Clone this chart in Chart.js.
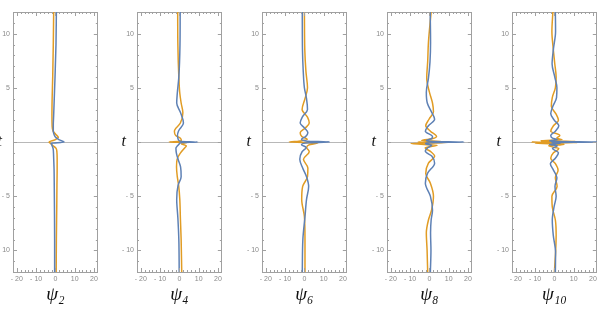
<!DOCTYPE html>
<html>
<head>
<meta charset="utf-8">
<script src="https://cdn.jsdelivr.net/npm/chart.js@4.4.1/dist/chart.umd.min.js"></script>
<style>
  html, body { margin: 0; padding: 0; background: #fff; width: 600px; height: 313px; overflow: hidden; }
  #wrap { position: relative; width: 600px; height: 313px; }
  #wrap canvas { position: absolute; top: 0; }
</style>
</head>
<body>
<div id="wrap"></div>
<script>
// five panels: Re (blue) and Im (orange) of psi_n against t

const panelLabels = ["ψ₂", "ψ₄", "ψ₆", "ψ₈", "ψ₁₀"];

// psi_2
const t2      = [-12, -9, -6, -4, -2.5, -1.5, -1, -0.6, -0.3, -0.12, 0, 0.2, 0.43, 0.7, 1, 1.5, 2.5, 4, 6, 9, 12];
const blue2   = [-0.4, -0.4, -0.5, -0.6, -0.7, -0.9, -1, -1.2, -1.8, -2.2, 4.5, 2, 0.1, -0.7, -1.1, -1.1, -0.9, -0.6, -0.2, 0.3, 0.5];
const orange2 = [0.4, 0.5, 0.7, 0.8, 0.9, 0.9, 0.8, 0.4, -1.5, -2.6, -3.3, -0.3, 1.5, 0.2, -1.2, -1.7, -1.8, -1.7, -1.4, -1.1, -0.9];

// psi_4
const t4      = [-12, -9, -7, -5.3, -4, -3.2, -2.3, -1.6, -1, -0.55, -0.35, -0.15, -0.05, 0, 0.05, 0.15, 0.35, 0.6, 1, 1.75, 2.7, 3.6, 4.5, 6, 9, 12];
const blue4   = [-0.1, -0.3, -0.8, -1.4, -0.7, 0.9, 0.6, -0.7, -1.6, -1.8, -1, 0, 1.5, 9.5, 1, -0.3, -0.8, -1, -0.5, 2.1, 0.6, -1.4, -1.1, -0.3, 0.3, 0.4];
const orange4 = [1.2, 0.9, 0.5, 0.2, -0.4, -1.1, -1.5, -1.2, 0.6, 2.7, 3.6, 1, 4, -5.3, -1, 1, 0.5, -1.9, -2.6, 0.5, 1.8, 0.9, 0.2, -0.3, -0.8, -0.9];

// psi_6
const t6      = [-12, -9, -6.9, -5.3, -4.1, -3.2, -2.4, -1.6, -0.9, -0.5, -0.25, -0.08, 0, 0.08, 0.25, 0.5, 0.85, 1.3, 1.75, 2.3, 3, 4, 5, 6.5, 8.5, 12];
const blue6   = [-1.1, -0.8, 0.3, 1.1, 2.2, 1.1, -0.9, -2.4, -1.2, 0.9, -1.5, 2, 13, 1.5, -1.5, 0.6, 1.8, 0, -2.2, -1.1, 1.6, 1.1, 0, -0.6, -1, -1.1];
const orange6 = [0.3, 0.3, 0, -1.4, -0.9, 1.6, 1.8, -0.5, 2.5, 1.2, 2.5, 7, -7.8, -3, 1.5, -1.3, -2.2, 0.5, 2.5, 1.6, -1.2, 0.3, 1.6, 0.8, 0.2, 0];

// psi_8
const t8      = [-12, -10, -8.4, -7.2, -6.3, -5, -3.8, -2.9, -1.95, -1.3, -0.86, -0.55, -0.3, -0.15, -0.05, 0, 0.05, 0.15, 0.3, 0.5, 1, 1.5, 2.1, 2.8, 3.6, 4.6, 5.9, 7.4, 9.2, 12];
const blue8   = [0.5, 0.8, 0.6, 0.9, 1.6, 0.5, -2.1, -1, 2.7, 1.2, -2.1, -1, 1.2, -2, 3, 17.9, 2, -1.5, 1, 1.6, -2.1, -0.5, 2.7, 1, -1.1, -1.6, -0.5, 0.3, 0.6, 0.4];
const orange8 = [-0.9, -1.2, -1.6, -0.5, 1.1, 2.1, 0.5, -1.9, -0.5, 2.7, 0.5, -2.2, 4, -9.6, 9.5, -6, 6, -4, 1.5, 3.7, 0.5, -1.9, -0.2, 2.1, 1.6, 0, -1.4, -0.9, -0.5, 0.9];

// psi_10
const t10      = [-12, -10.2, -8.6, -7.2, -6, -5, -4.1, -3.3, -2.6, -2, -1.5, -1, -0.6, -0.35, -0.22, -0.12, -0.05, 0, 0.05, 0.12, 0.22, 0.35, 0.6, 1, 1.5, 2, 2.6, 3.3, 4.1, 5, 6, 7.2, 8.6, 10.2, 12];
const blue10   = [0.5, 0.6, -0.6, -1.1, -0.2, 0.9, 0.3, 1.3, -0.5, -2.1, 0.5, 2.1, -1, 1.5, -2.5, 3, -1.5, 23, 2, -2.5, 1.5, -1, -1.9, 0.5, 2.3, 0, -1.9, -0.8, 1.1, 1.3, 0.2, -1.2, -0.5, 0.6, 0.5];
const orange10 = [0, 0.6, 0.9, 0.5, -1.1, -1.3, 1.4, 0.5, 1.9, 0.5, -1.9, -0.5, 2.3, -3, 5, -10, 12, -12, 11, -7, 4, 1.2, 2.8, -1.9, -0.5, 2.1, 0.8, -1.6, -1.1, 0.5, 0.9, 0.2, -0.6, -1.3, -0.8];

const tSeries      = [t2, t4, t6, t8, t10];
const blueSeries   = [blue2, blue4, blue6, blue8, blue10];
const orangeSeries = [orange2, orange4, orange6, orange8, orange10];

const BLUE = "#5e81b5";
const ORANGE = "#e19c24";
const FRAME = "#a0a0a0";
const TICK_TEXT = "#8a8a8a";

// layout: left edge of each frame, axis gutter
const frameLefts = [13, 137, 262, 387, 512];
const GUTTER = 24;
const CANVAS_W = 112;

function fmt(v) {
  return v < 0 ? "- " + Math.abs(v) : String(v);
}

const frameTicks = {
  id: "frameTicks",
  afterDatasetsDraw(chart) {
    const { ctx, chartArea: a } = chart;
    const x = chart.scales.x, y = chart.scales.y;
    ctx.save();
    ctx.strokeStyle = FRAME;
    ctx.lineWidth = 1;
    ctx.beginPath();
    for (let v = -20; v <= 20; v += 2) {
      const px = Math.round(x.getPixelForValue(v)) + 0.5;
      const len = v % 10 === 0 ? 4 : 2;
      ctx.moveTo(px, a.bottom); ctx.lineTo(px, a.bottom - len);
      ctx.moveTo(px, a.top);    ctx.lineTo(px, a.top + len);
    }
    for (let v = -12; v <= 12; v++) {
      const py = Math.round(y.getPixelForValue(v)) + 0.5;
      const len = v % 5 === 0 ? 4 : 2;
      ctx.moveTo(a.left, py);  ctx.lineTo(a.left + len, py);
      ctx.moveTo(a.right, py); ctx.lineTo(a.right - len, py);
    }
    ctx.stroke();
    ctx.restore();
  }
};

const wrap = document.getElementById("wrap");

panelLabels.forEach((label, i) => {
  const canvas = document.createElement("canvas");
  canvas.width = CANVAS_W;
  canvas.height = 313;
  canvas.style.left = (frameLefts[i] - GUTTER) + "px";
  canvas.style.width = CANVAS_W + "px";
  canvas.style.height = "313px";
  wrap.appendChild(canvas);

  const ts = tSeries[i];
  const blueData = ts.map((t, k) => ({ x: blueSeries[i][k], y: t }));
  const orangeData = ts.map((t, k) => ({ x: orangeSeries[i][k], y: t }));

  const lineStyle = { borderWidth: 1.5, pointRadius: 0, cubicInterpolationMode: "monotone", xAxisID: "x", yAxisID: "y" };

  new Chart(canvas.getContext("2d"), {
    type: "line",
    data: {
      datasets: [
        { ...lineStyle, data: blueData, borderColor: BLUE },
        { ...lineStyle, data: orangeData, borderColor: ORANGE },
      ],
    },
    options: {
      responsive: false,
      animation: false,
      indexAxis: "y",
      layout: { padding: 0 },
      plugins: { legend: { display: false }, tooltip: { enabled: false } },
      scales: {
        x: {
          type: "linear",
          position: "bottom",
          min: -22, max: 22,
          afterFit: s => { s.height = 41; },
          grid: { display: false, drawTicks: false },
          border: { color: FRAME },
          ticks: {
            stepSize: 10, includeBounds: false, autoSkip: false, maxRotation: 0,
            padding: 3, color: TICK_TEXT,
            font: { family: "'Liberation Sans', sans-serif", size: 7 },
            callback: v => fmt(v),
          },
          title: {
            display: true,
            text: label,
            color: "#111",
            font: { family: "'Liberation Serif', serif", size: 19, style: "italic" },
            padding: { top: 0, bottom: 7 },
          },
        },
        y: {
          type: "linear",
          position: "left",
          min: -12, max: 12,
          afterFit: s => { s.width = GUTTER; },
          grid: {
            drawTicks: false,
            color: c => (c.tick && c.tick.value === 0 ? "#b8b8b8" : "rgba(0,0,0,0)"),
          },
          border: { color: FRAME },
          ticks: {
            stepSize: 5, includeBounds: false, autoSkip: false,
            padding: 3,
            color: c => (c.tick && c.tick.value === 0 ? "#111" : TICK_TEXT),
            font: c => (c.tick && c.tick.value === 0
              ? { family: "'Liberation Serif', serif", size: 16, style: "italic" }
              : { family: "'Liberation Sans', sans-serif", size: 7 }),
            callback: v => (v === 0 ? "t  " : fmt(v)),
          },
        },
        x2: {
          type: "linear",
          position: "top",
          afterFit: s => { s.height = 12; },
          ticks: { display: false },
          grid: { display: false, drawTicks: false },
          border: { color: FRAME },
        },
        y2: {
          type: "linear",
          position: "right",
          afterFit: s => { s.width = 2; },
          ticks: { display: false },
          grid: { display: false, drawTicks: false },
          border: { color: FRAME },
        },
      },
    },
    plugins: [frameTicks],
  });
});
</script>
</body>
</html>
